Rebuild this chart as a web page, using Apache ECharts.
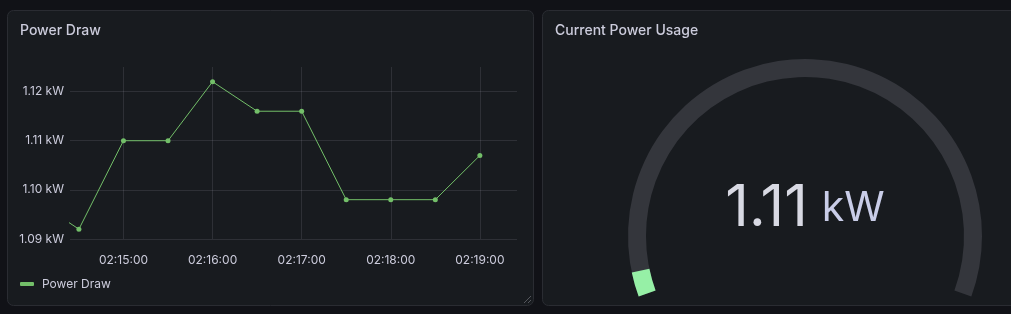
<!DOCTYPE html>
<html>
<head>
<meta charset="utf-8">
<script src="https://cdn.jsdelivr.net/npm/echarts@6/dist/echarts.min.js"></script>
<style>
  html, body { margin: 0; padding: 0; background: #111217; }
  #main { width: 1011px; height: 314px; }
</style>
</head>
<body>
<div id="main"></div>
<script>
var times = ['02:14:00', '02:14:30', '02:15:00', '02:15:30', '02:16:00', '02:16:30',
             '02:17:00', '02:17:30', '02:18:00', '02:18:30', '02:19:00'];
var powerKw = [1.098, 1.092, 1.110, 1.110, 1.122, 1.116, 1.116, 1.098, 1.098, 1.098, 1.107];
var currentKw = 1.11;
var gaugeMax = 30;
var rangeStart = '02:14:24';
var rangeEnd = '02:19:25';

var chart = echarts.init(document.getElementById('main'));
var FONT = 'Inter, "Noto Sans", sans-serif';
var TEXT = '#ccccdc';

function toTs(s) {
    var p = s.split(':');
    return new Date(2024, 0, 1, +p[0], +p[1], +p[2]).getTime();
}
function pad(n) { return n < 10 ? '0' + n : '' + n; }

var lineData = [];
for (var i = 0; i < times.length; i++) {
    lineData.push([toTs(times[i]), powerKw[i]]);
}

chart.setOption({
    backgroundColor: '#111217',
    animation: false,
    textStyle: { fontFamily: FONT },
    graphic: [
        { type: 'rect', z: -10, shape: { x: 7.5, y: 10.5, width: 526, height: 295, r: 6 },
          style: { fill: '#181b1f', stroke: '#2a2c32', lineWidth: 1 } },
        { type: 'rect', z: -10, shape: { x: 542.5, y: 10.5, width: 520, height: 295, r: 6 },
          style: { fill: '#181b1f', stroke: '#2a2c32', lineWidth: 1 } },
        { type: 'text', left: 20, top: 24,
          style: { text: 'Power Draw', fill: TEXT, font: '500 14px ' + FONT } },
        { type: 'text', left: 555, top: 24,
          style: { text: 'Current Power Usage', fill: TEXT, font: '500 14px ' + FONT } },
        // resize handle
        { type: 'line', shape: { x1: 524, y1: 303, x2: 531, y2: 296 }, style: { stroke: '#55575d', lineWidth: 1 } },
        { type: 'line', shape: { x1: 528, y1: 303, x2: 531, y2: 300 }, style: { stroke: '#55575d', lineWidth: 1 } }
    ],
    grid: { left: 70, right: 494, top: 67, bottom: 75 },
    legend: {
        left: 15, top: 273,
        icon: 'roundRect', itemWidth: 14, itemHeight: 4,
        textStyle: { color: TEXT, fontSize: 12, padding: [0, 0, 0, 3] },
        data: ['Power Draw']
    },
    xAxis: {
        type: 'time',
        min: toTs(rangeStart),
        max: toTs(rangeEnd),
        splitNumber: 5,
        axisLine: { show: false },
        axisTick: { show: false },
        axisLabel: {
            color: TEXT, fontSize: 12, margin: 15,
            showMinLabel: false, showMaxLabel: false,
            formatter: function (v) {
                var d = new Date(v);
                if (d.getSeconds() !== 0) return '';
                return pad(d.getHours()) + ':' + pad(d.getMinutes()) + ':' + pad(d.getSeconds());
            }
        },
        splitLine: { show: true, showMinLine: false, showMaxLine: false,
                     lineStyle: { color: 'rgba(204,204,220,0.12)' } }
    },
    yAxis: {
        type: 'value',
        min: 1.09, max: 1.125, interval: 0.01,
        axisLine: { show: false },
        axisTick: { show: false },
        axisLabel: {
            color: TEXT, fontSize: 12, margin: 6,
            showMaxLabel: false,
            formatter: function (v) { return v.toFixed(2) + ' kW'; }
        },
        splitLine: { show: true, showMaxLine: false,
                     lineStyle: { color: 'rgba(204,204,220,0.12)' } }
    },
    series: [{
        name: 'Power Draw',
        type: 'line',
        data: lineData,
        color: '#73bf69',
        lineStyle: { width: 1 },
        symbol: 'circle', symbolSize: 5,
        clip: true
    }, {
        type: 'gauge',
        center: [805, 236],
        radius: 177,
        startAngle: 200, endAngle: -20,
        min: 0, max: gaugeMax,
        axisLine: { lineStyle: { width: 18, color: [[1, '#34363c']] } },
        progress: { show: true, width: 18, itemStyle: { color: '#96f0a6' } },
        pointer: { show: false },
        axisTick: { show: false },
        splitLine: { show: false },
        axisLabel: { show: false },
        anchor: { show: false },
        title: { show: false },
        detail: {
            offsetCenter: [0, -27],
            formatter: function (v) { return '{v|' + v.toFixed(2) + '}{u|kW}'; },
            rich: {
                v: { fontSize: 58, fontWeight: 400, color: '#d8d9e3', fontFamily: FONT },
                u: { fontSize: 41, fontWeight: 400, color: '#c9cde8', fontFamily: FONT, padding: [0, 0, 0, 14] }
            }
        },
        data: [{ value: currentKw }]
    }]
});
</script>
</body>
</html>
